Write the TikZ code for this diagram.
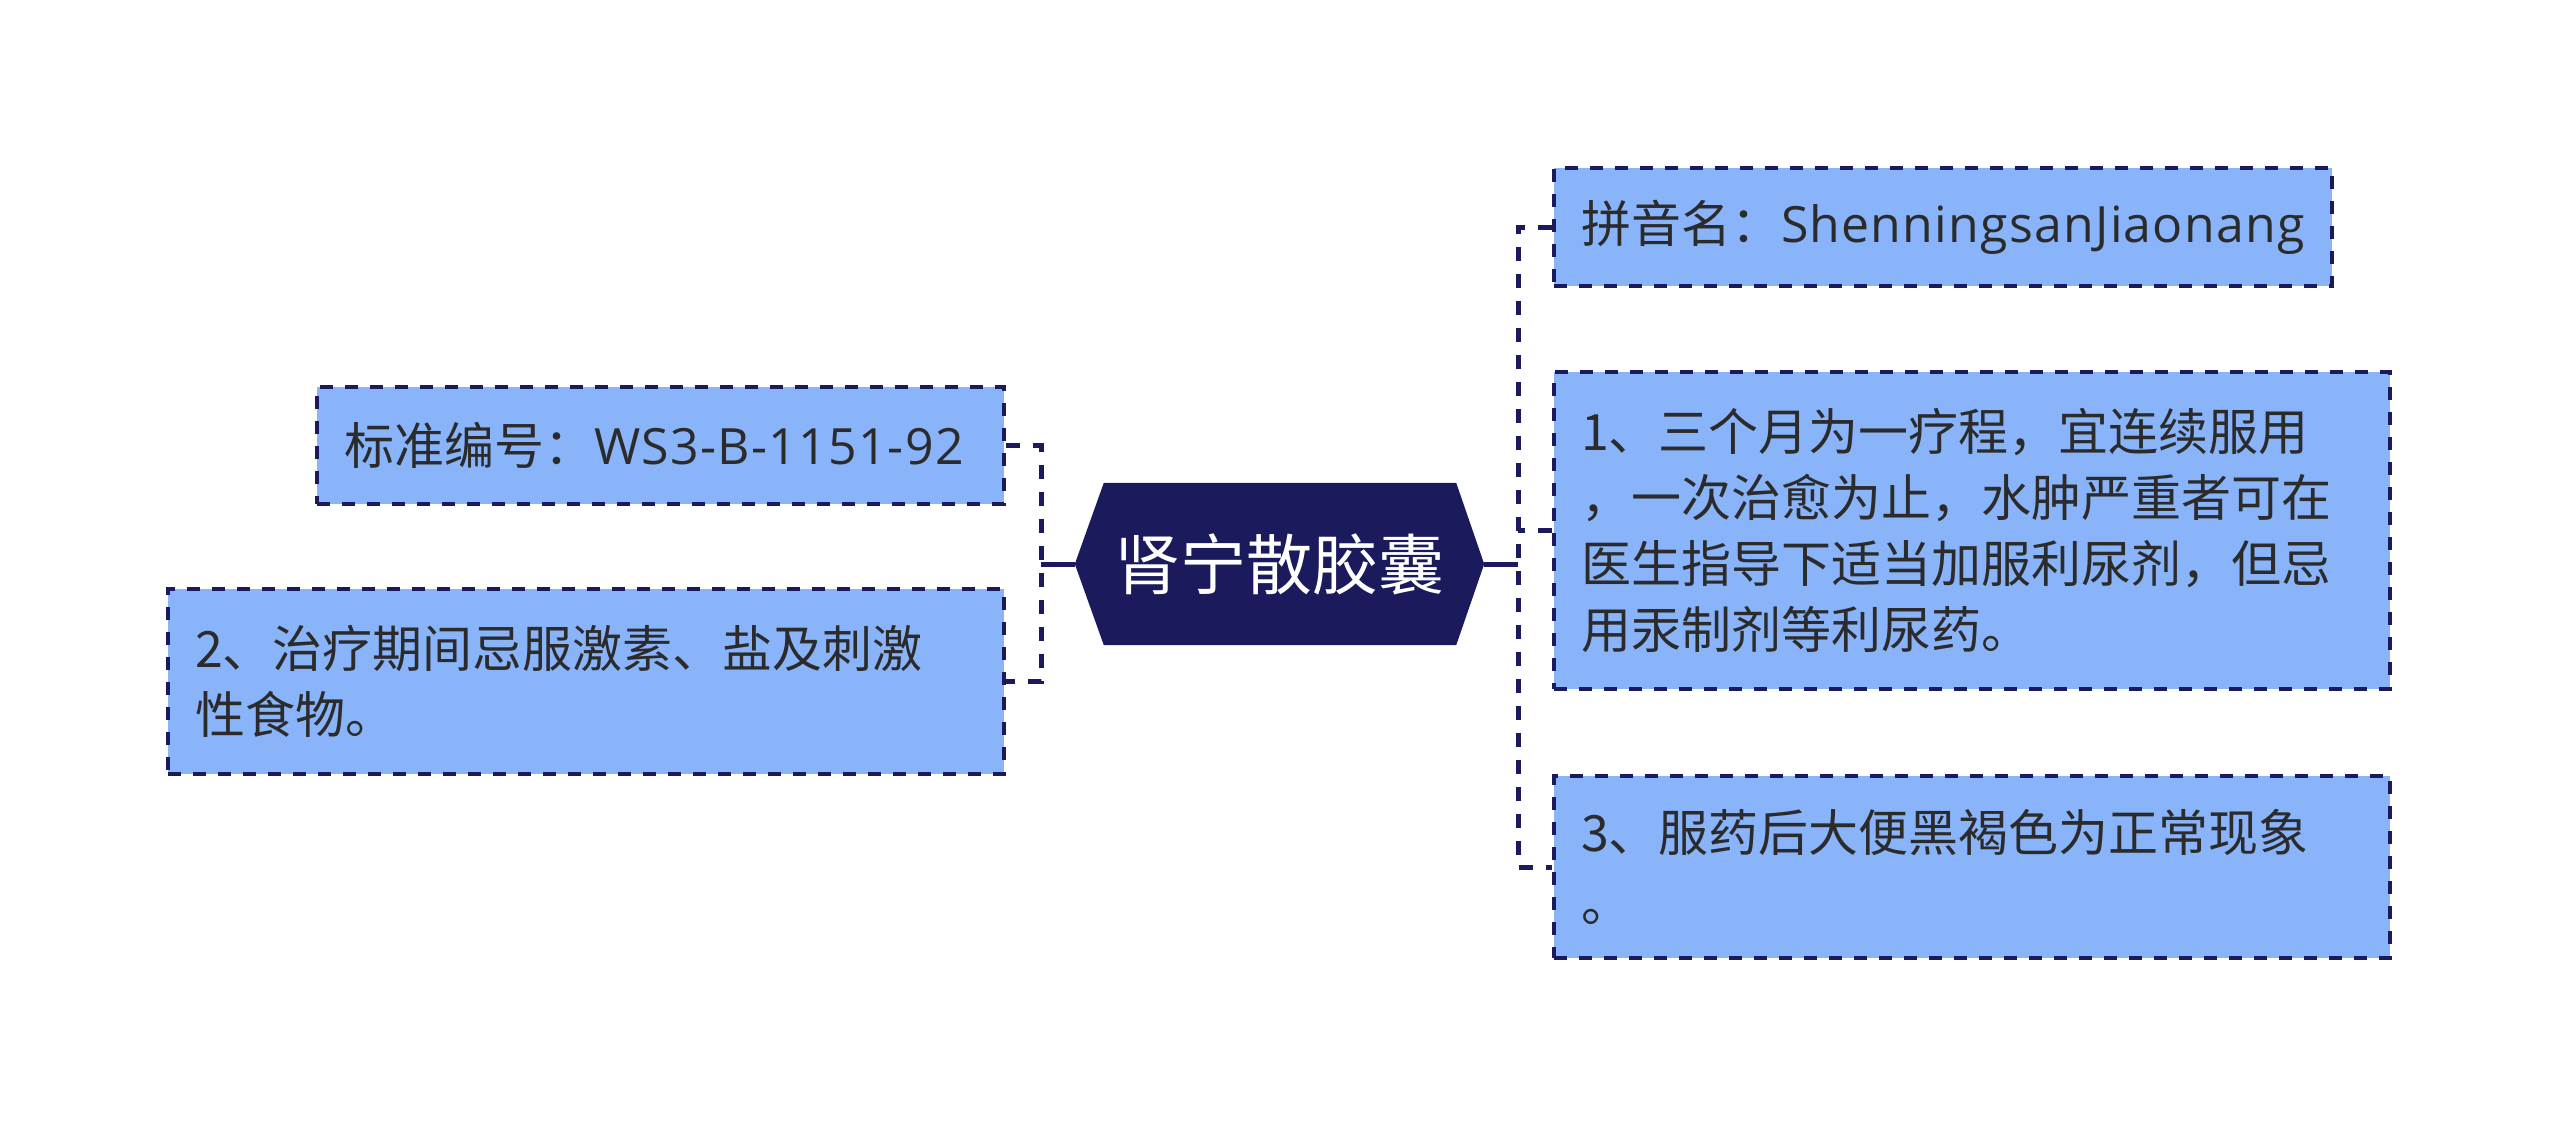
\documentclass[tikz,border=0pt]{standalone}
\usepackage{fontspec}
\setmainfont{Noto Sans CJK SC}
\newfontfamily\lat[LetterSpace=2.5]{Open Sans}
\usetikzlibrary{backgrounds}
\definecolor{navy}{HTML}{1B1A5C}
\definecolor{boxfill}{HTML}{8AB4FA}
\definecolor{txt}{HTML}{2B2B2B}
\begin{document}
\begin{tikzpicture}[x=1pt,y=-1pt,
  leaf/.style={draw=navy, fill=boxfill, line width=4pt, dash pattern=on 13pt off 12pt,
    inner xsep=27pt, inner ysep=0pt, align=left, text=txt,
    font=\fontsize{50}{66}\selectfont, text width=#1},
  dashconn/.style={draw=navy, line width=5pt, dash pattern=on 14pt off 13pt},
  solidconn/.style={draw=navy, line width=5pt},
  hub/.style={inner sep=0pt, minimum width=409pt, minimum height=162pt,
    text=white, font=\fontsize{66}{80}\selectfont}]
\useasboundingbox (0,0) rectangle (2560,1129);

% central topic
\node[hub] (c) at (1279.5,564) {肾宁散胶囊};
\begin{scope}[on background layer]
\fill[navy] ([xshift=29pt]c.north west) -- ([xshift=-28pt]c.north east) -- (c.east)
  -- ([xshift=-28pt]c.south east) -- ([xshift=29pt]c.south west) -- (c.west) -- cycle;
\end{scope}

% left leaves
\node[leaf=633pt, minimum height=117pt] (L1) at (660.5,445.5) {标准编号：{\lat WS3-B-1151-92}};
\node[leaf=782pt, minimum height=185pt] (L2) at (586,681.5) {2、治疗期间忌服激素、盐及刺激\\性食物。};

% right leaves
\node[leaf=724pt, minimum height=118pt] (R1) at (1943,227) {拼音名：{\lat ShenningsanJiaonang}};
\node[leaf=782pt, minimum height=317pt] (R2) at (1972,530.5) {1、三个月为一疗程，宜连续服用\\，一次治愈为止，水肿严重者可在\\医生指导下适当加服利尿剂，但忌\\用汞制剂等利尿药。};
\node[leaf=782pt, minimum height=182pt] (R3) at (1972,867) {3、服药后大便黑褐色为正常现象\\[4pt]。};

% junctions
\coordinate (jl) at (1041,564);
\coordinate (jr) at (1518,564);

% connectors
\draw[solidconn] (c.west) -- (jl);
\draw[dashconn] (L1.east) -- (L1.east -| jl) -- (L2.east -| jl) -- (L2.east);
\draw[solidconn] (c.east) -- (jr);
\draw[dashconn] (R1.west) -- (R1.west -| jr) -- (R3.west -| jr) -- (R3.west);
\draw[dashconn] (R2.west) -- (R2.west -| jr);
\end{tikzpicture}
\end{document}
